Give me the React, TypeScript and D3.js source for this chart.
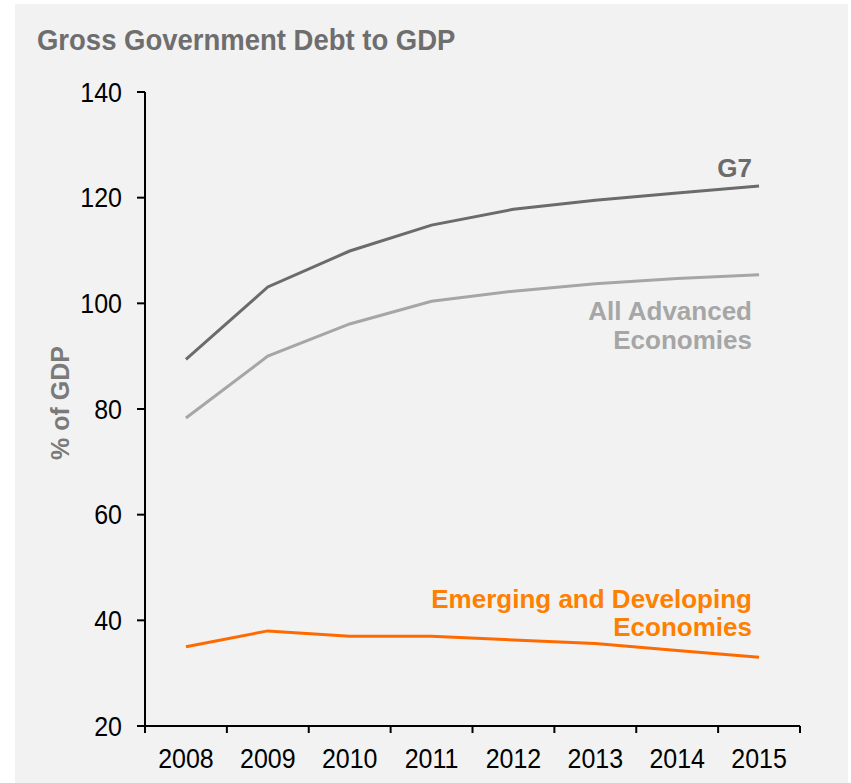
import React from "react";
import * as d3 from "d3";

const years = ["2008", "2009", "2010", "2011", "2012", "2013", "2014", "2015"];
const g7 = [89.4, 103.1, 109.9, 114.8, 117.8, 119.5, 120.9, 122.2];
const advanced = [78.3, 90.0, 96.1, 100.4, 102.3, 103.7, 104.7, 105.4];
const emerging = [35.0, 38.0, 37.0, 37.0, 36.3, 35.6, 34.3, 33.0];
const yTicks = [20, 40, 60, 80, 100, 120, 140];

const W = 851;
const H = 783;
const left = 145;
const right = 800;
const top = 92;
const bottom = 726;

export default function App() {
  const x = d3.scaleBand<string>().domain(years).range([left, right]);
  const y = d3.scaleLinear().domain([20, 140]).range([bottom, top]);
  const line = d3
    .line<number>()
    .x((_, i) => (x(years[i]) as number) + x.bandwidth() / 2)
    .y((d) => y(d));
  const font = "Liberation Sans, Arial, Helvetica, sans-serif";
  const xTickPos = years.map((yr) => x(yr) as number).concat([right]);

  return (
    <svg
      width={W}
      height={H}
      style={{ position: "absolute", left: 0, top: 0 }}
      fontFamily={font}
    >
      <rect x={15} y={4} width={833} height={779} fill="#f2f2f2" />
      <text x={37} y={50} fontSize={27.5} fontWeight="bold" fill="#6e6e6e"
        transform="translate(0,50) scale(1,1.1) translate(0,-50)">
        Gross Government Debt to GDP
      </text>
      <text
        transform="translate(69,403) rotate(-90)"
        textAnchor="middle"
        fontSize={25}
        fontWeight="bold"
        fill="#7a7a7a"
      >
        % of GDP
      </text>
      {/* y axis */}
      <line x1={left} x2={left} y1={top} y2={bottom} stroke="#000" strokeWidth={2} />
      {yTicks.map((t) => (
        <g key={t}>
          <line x1={left - 8} x2={left} y1={y(t)} y2={y(t)} stroke="#000" strokeWidth={2} />
          <text
            transform={`translate(${left - 23},${y(t)}) scale(1,1.1)`}
            textAnchor="end"
            dy="0.35em"
            fontSize={25}
            fill="#000"
          >
            {t}
          </text>
        </g>
      ))}
      {/* x axis */}
      <line x1={left} x2={right} y1={bottom} y2={bottom} stroke="#000" strokeWidth={2} />
      {xTickPos.map((p, i) => (
        <line key={i} x1={p} x2={p} y1={bottom} y2={bottom + 7} stroke="#000" strokeWidth={2} />
      ))}
      {years.map((yr) => (
        <text
          key={yr}
          transform={`translate(${(x(yr) as number) + x.bandwidth() / 2},${bottom + 42}) scale(1,1.1)`}
          textAnchor="middle"
          fontSize={25}
          fill="#000"
        >
          {yr}
        </text>
      ))}
      <path d={line(g7) || ""} fill="none" stroke="#6b6b6b" strokeWidth={3} />
      <path d={line(advanced) || ""} fill="none" stroke="#a6a6a6" strokeWidth={3} />
      <path d={line(emerging) || ""} fill="none" stroke="#ff6a00" strokeWidth={3} />
      <g fontWeight="bold" fontSize={26} textAnchor="end">
        <text x={752} y={177} fill="#6b6b6b">G7</text>
        <text x={752} y={320} fill="#a6a6a6">All Advanced</text>
        <text x={752} y={349} fill="#a6a6a6">Economies</text>
        <text x={752} y={608} fill="#ff7f00">Emerging and Developing</text>
        <text x={752} y={636} fill="#ff7f00">Economies</text>
      </g>
    </svg>
  );
}
